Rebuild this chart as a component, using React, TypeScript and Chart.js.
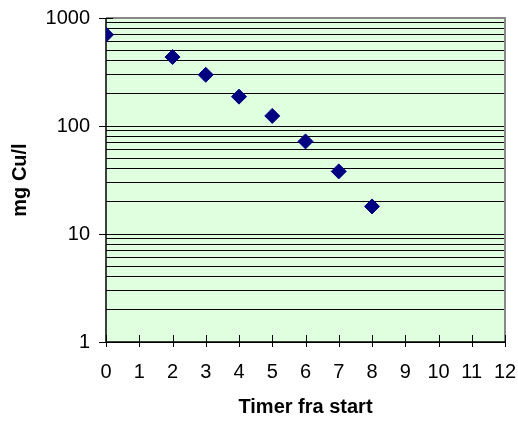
import React, { useEffect, useRef } from "react";
import { Chart, registerables } from "chart.js";

Chart.register(...registerables);

const hours = [0, 2, 3, 4, 5, 6, 7, 8];
const copper = [700, 435, 298, 187, 124, 72, 38, 18];
const xTickValues = [0, 1, 2, 3, 4, 5, 6, 7, 8, 9, 10, 11, 12];
const yMajorValues = [1, 10, 100, 1000];
const yMinorFactors = [1, 2, 3, 4, 5, 6, 7, 8, 9];
const xTitle = "Timer fra start";
const yTitle = "mg Cu/l";

const FONT = "'Liberation Sans', Arial, sans-serif";

const framePlugin = {
  id: "frame",
  beforeDraw(chart: any) {
    const { ctx, chartArea } = chart;
    ctx.save();
    ctx.fillStyle = "#dfffdf";
    ctx.fillRect(chartArea.left, chartArea.top, chartArea.right - chartArea.left, chartArea.bottom - chartArea.top);
    ctx.restore();
  },
  beforeDatasetsDraw(chart: any) {
    const { ctx, chartArea, scales } = chart;
    const { left, right, top, bottom } = chartArea;
    ctx.save();
    ctx.strokeStyle = "#888888";
    ctx.lineWidth = 2;
    ctx.beginPath();
    ctx.moveTo(left, top);
    ctx.lineTo(right, top);
    ctx.lineTo(right, bottom);
    ctx.stroke();
    ctx.strokeStyle = "#000000";
    ctx.lineWidth = 1.5;
    ctx.beginPath();
    ctx.moveTo(left, top);
    ctx.lineTo(left, bottom);
    ctx.lineTo(right + 1, bottom);
    ctx.stroke();
    ctx.lineWidth = 1;
    ctx.beginPath();
    xTickValues.forEach((v) => {
      const x = Math.round(scales.x.getPixelForValue(v)) + 0.5;
      ctx.moveTo(x, bottom - 7);
      ctx.lineTo(x, bottom + 5);
    });
    yMajorValues.forEach((v) => {
      const y = Math.round(scales.y.getPixelForValue(v)) + 0.5;
      ctx.moveTo(left - 7, y);
      ctx.lineTo(left + 7, y);
    });
    ctx.stroke();
    ctx.restore();
  },
};

function clearPadding(scale: any) {
  scale.paddingTop = 0;
  scale.paddingBottom = 0;
  scale.paddingLeft = 0;
  scale.paddingRight = 0;
}

export default function App() {
  const canvasRef = useRef<HTMLCanvasElement | null>(null);

  useEffect(() => {
    if (!canvasRef.current) return;
    const yTicks: number[] = [];
    [1, 10, 100].forEach((d) => yMinorFactors.forEach((f) => yTicks.push(d * f)));
    yTicks.push(1000);

    const chart = new Chart(canvasRef.current, {
      type: "scatter",
      data: {
        datasets: [
          {
            data: hours.map((h, i) => ({ x: h, y: copper[i] })),
            pointStyle: "rectRot",
            pointRadius: 7.5,
            pointHoverRadius: 7.5,
            backgroundColor: "#000080",
            borderColor: "#000080",
            borderWidth: 1,
          },
        ],
      },
      options: {
        responsive: false,
        animation: false,
        events: [],
        layout: { padding: { left: 0, right: 13, top: 18, bottom: 0 } },
        plugins: {
          legend: { display: false },
          tooltip: { enabled: false },
        },
        scales: {
          x: {
            type: "linear",
            min: 0,
            max: 12,
            afterBuildTicks: (scale: any) => {
              scale.ticks = xTickValues.map((v) => ({ value: v }));
            },
            afterFit: (scale: any) => {
              scale.height = 79;
              clearPadding(scale);
            },
            grid: { display: false, drawTicks: false },
            border: { display: false },
            ticks: {
              color: "#000",
              font: { family: FONT, size: 20 },
              padding: 18,
              maxRotation: 0,
              autoSkip: false,
            },
            title: {
              display: true,
              text: xTitle,
              color: "#000",
              font: { family: FONT, size: 20, weight: "bold" },
              padding: { top: 10, bottom: 2 },
            },
          },
          y: {
            type: "logarithmic",
            min: 1,
            max: 1000,
            afterBuildTicks: (scale: any) => {
              scale.ticks = yTicks.map((v) => ({ value: v }));
            },
            afterFit: (scale: any) => {
              scale.width = 106;
              clearPadding(scale);
            },
            grid: {
              display: true,
              drawTicks: false,
              color: "#000",
              lineWidth: 1,
            },
            border: { display: false },
            ticks: {
              color: "#000",
              font: { family: FONT, size: 20 },
              padding: 16,
              autoSkip: false,
              callback: (value: any) => (yMajorValues.includes(Number(value)) ? String(value) : ""),
            },
            title: {
              display: true,
              text: yTitle,
              color: "#000",
              font: { family: FONT, size: 20, weight: "bold" },
              padding: { top: 8, bottom: 0 },
            },
          },
        },
      },
      plugins: [framePlugin],
    });
    return () => chart.destroy();
  }, []);

  return (
    <div style={{ position: "absolute", left: 0, top: 0, width: 518, height: 421, background: "#fff" }}>
      <canvas ref={canvasRef} width={518} height={421} style={{ display: "block" }} />
    </div>
  );
}
